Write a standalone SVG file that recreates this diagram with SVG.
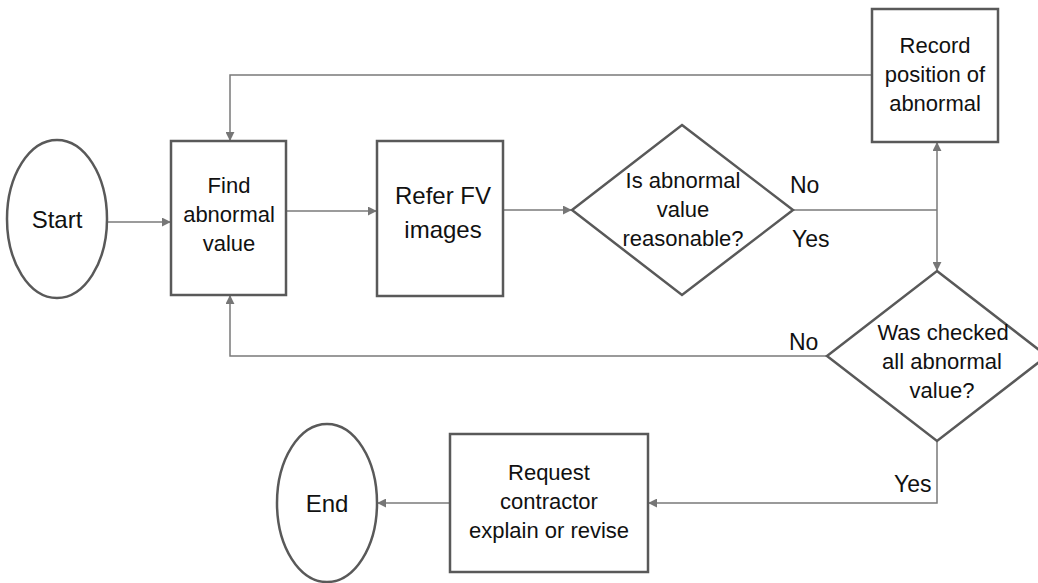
<svg xmlns="http://www.w3.org/2000/svg" width="1038" height="583" viewBox="0 0 1038 583">
  <defs>
    <marker id="arrow" viewBox="0 0 10 10" refX="9" refY="5" markerWidth="9" markerHeight="9" markerUnits="userSpaceOnUse" orient="auto">
      <path d="M0,0 L10,5 L0,10 z" fill="#767676"/>
    </marker>
    <style>
      .shape { fill: #ffffff; stroke: #595959; stroke-width: 2.5; }
      .conn { fill: none; stroke: #7a7a7a; stroke-width: 1.5; }
      .lbl { font-family: "Liberation Sans", Arial, sans-serif; font-size: 22px; fill: #111111; text-anchor: middle; }
      .big { font-size: 24px; }
      .tag { font-family: "Liberation Sans", Arial, sans-serif; font-size: 23px; fill: #111111; }
    </style>
  </defs>
  <rect width="1038" height="583" fill="#ffffff"/>

  <g id="connectors">
    <!-- Start -> Find -->
    <line class="conn" x1="107" y1="222" x2="170" y2="222" marker-end="url(#arrow)"/>
    <!-- Find -> Refer -->
    <line class="conn" x1="286" y1="211" x2="376" y2="211" marker-end="url(#arrow)"/>
    <!-- Refer -> decision 1 -->
    <line class="conn" x1="503" y1="210" x2="571" y2="210" marker-end="url(#arrow)"/>
    <!-- decision 1 right to junction -->
    <line class="conn" x1="793" y1="210" x2="937" y2="210" stroke-width="2.5"/>
    <!-- junction up to Record -->
    <line class="conn" x1="937" y1="210" x2="937" y2="143" marker-end="url(#arrow)"/>
    <!-- junction down to decision 2 -->
    <line class="conn" x1="937" y1="210" x2="937" y2="270" marker-end="url(#arrow)"/>
    <!-- Record back to Find -->
    <polyline class="conn" points="872,75 230,75 230,140" marker-end="url(#arrow)"/>
    <!-- decision 2 No back to Find -->
    <polyline class="conn" points="827,356 230,356 230,296" marker-end="url(#arrow)"/>
    <!-- decision 2 Yes to Request -->
    <polyline class="conn" points="937,441 937,503 649,503" marker-end="url(#arrow)"/>
    <!-- Request -> End -->
    <line class="conn" x1="450" y1="503" x2="378" y2="503" marker-end="url(#arrow)"/>
  </g>

  <g id="start">
    <ellipse class="shape" cx="57" cy="219" rx="50" ry="79"/>
    <text class="lbl big" x="57" y="228">Start</text>
  </g>

  <g id="find">
    <rect class="shape" x="171" y="141" width="115" height="154"/>
    <text class="lbl" x="229" y="193">Find</text>
    <text class="lbl" x="229" y="222">abnormal</text>
    <text class="lbl" x="229" y="251">value</text>
  </g>

  <g id="refer">
    <rect class="shape" x="377" y="141" width="126" height="155"/>
    <text class="lbl big" x="443" y="204">Refer FV</text>
    <text class="lbl big" x="443" y="238">images</text>
  </g>

  <g id="reasonable">
    <polygon class="shape" points="682,125 793,210 682,295 572,210"/>
    <text class="lbl" x="683" y="188">Is abnormal</text>
    <text class="lbl" x="683" y="217">value</text>
    <text class="lbl" x="683" y="246">reasonable?</text>
  </g>

  <g id="record">
    <rect class="shape" x="872" y="9" width="126" height="133"/>
    <text class="lbl" x="935" y="53">Record</text>
    <text class="lbl" x="935" y="82">position of</text>
    <text class="lbl" x="935" y="111">abnormal</text>
  </g>

  <g id="checked">
    <polygon class="shape" points="937,271 1047,356 937,441 827,356"/>
    <text class="lbl" x="943" y="340">Was checked</text>
    <text class="lbl" x="942" y="369">all abnormal</text>
    <text class="lbl" x="942" y="398">value?</text>
  </g>

  <g id="request">
    <rect class="shape" x="450" y="434" width="198" height="138"/>
    <text class="lbl" x="549" y="480">Request</text>
    <text class="lbl" x="549" y="509">contractor</text>
    <text class="lbl" x="549" y="538">explain or revise</text>
  </g>

  <g id="end">
    <ellipse class="shape" cx="327" cy="503" rx="50" ry="79"/>
    <text class="lbl big" x="327" y="512">End</text>
  </g>

  <g id="branch-labels">
    <text class="tag" x="790" y="193">No</text>
    <text class="tag" x="792" y="247">Yes</text>
    <text class="tag" x="789" y="350">No</text>
    <text class="tag" x="894" y="492">Yes</text>
  </g>
</svg>
